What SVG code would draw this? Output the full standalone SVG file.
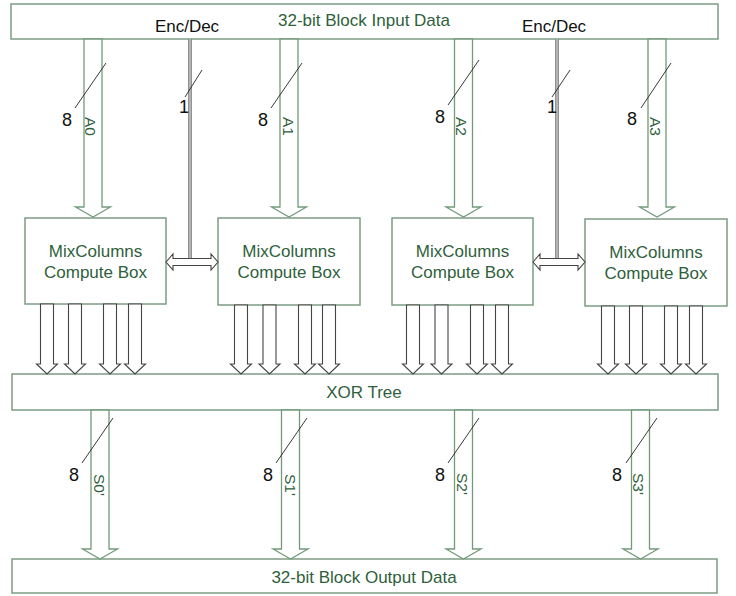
<svg xmlns="http://www.w3.org/2000/svg" width="736" height="596" viewBox="0 0 736 596">
<style>
.box{fill:#fff;stroke:#7d9c84;stroke-width:1.5}
.gt{font-family:"Liberation Sans",Arial,sans-serif;font-size:17px;fill:#2f5f3c;text-anchor:middle}
.bt{font-family:"Liberation Sans",Arial,sans-serif;font-size:17px;fill:#111;text-anchor:middle}
.num{font-family:"Liberation Sans",Arial,sans-serif;font-size:18px;fill:#111;text-anchor:middle}
.rot{font-family:"Liberation Sans",Arial,sans-serif;font-size:15.5px;fill:#2f5f3c}
.ga{fill:#fff;stroke:#739a7b;stroke-width:1.3}
.ka{fill:#fff;stroke:#444;stroke-width:1.1}
.sl{stroke:#222;stroke-width:0.9;fill:none}
</style>
<g id="input-box"><rect class="box" x="11" y="4" width="707" height="35"/><text class="gt" x="364" y="26">32-bit Block Input Data</text></g>
<g id="encdec-labels"><text class="bt" x="187" y="32">Enc/Dec</text><text class="bt" x="554" y="32">Enc/Dec</text></g>
<g id="mix0"><rect class="box" x="25" y="218" width="141" height="86"/><text class="gt" x="95.5" y="257">MixColumns</text><text class="gt" x="95.5" y="278">Compute Box</text></g>
<g id="mix1"><rect class="box" x="218" y="218" width="142" height="87"/><text class="gt" x="289" y="257">MixColumns</text><text class="gt" x="289" y="278">Compute Box</text></g>
<g id="mix2"><rect class="box" x="392" y="218" width="141" height="87"/><text class="gt" x="462.5" y="257">MixColumns</text><text class="gt" x="462.5" y="278">Compute Box</text></g>
<g id="mix3"><rect class="box" x="585" y="219" width="142" height="87"/><text class="gt" x="656" y="258">MixColumns</text><text class="gt" x="656" y="279">Compute Box</text></g>
<g id="xor"><rect class="box" x="12" y="374" width="706" height="36"/><text class="gt" x="364" y="398">XOR Tree</text></g>
<g id="output-box"><rect class="box" x="12" y="559" width="705" height="34"/><text class="gt" x="364" y="583">32-bit Block Output Data</text></g>
<g id="connectors">
<polygon class="ga" points="84,39 102,39 102,207 110.5,207 93,217 75.5,207 84,207"/>
<polygon class="ga" points="280,39 298,39 298,207 306.5,207 289,217 271.5,207 280,207"/>
<polygon class="ga" points="454.5,39 472.5,39 472.5,207 481,207 463.5,217 446,207 454.5,207"/>
<polygon class="ga" points="648,39 666,39 666,207 674.5,207 657,217 639.5,207 648,207"/>
<polygon class="ga" points="91,410 109,410 109,549 117.5,549 100,559 82.5,549 91,549"/>
<polygon class="ga" points="281.5,410 299.5,410 299.5,549 308,549 290.5,559 273,549 281.5,549"/>
<polygon class="ga" points="454.5,410 472.5,410 472.5,549 481,549 463.5,559 446,549 454.5,549"/>
<polygon class="ga" points="631.5,410 649.5,410 649.5,549 658,549 640.5,559 623,549 631.5,549"/>
<line x1="190" y1="39" x2="190" y2="258.5" stroke="#777" stroke-width="3.6"/>
<line x1="190" y1="39" x2="190" y2="258.5" stroke="#ddd" stroke-width="1.2"/>
<line x1="557" y1="39" x2="557" y2="258.5" stroke="#777" stroke-width="3.6"/>
<line x1="557" y1="39" x2="557" y2="258.5" stroke="#ddd" stroke-width="1.2"/>
<polygon class="ka" points="166,262 173,254 173,258.5 211,258.5 211,254 218,262 211,270 211,265.5 173,265.5 173,270"/>
<polygon class="ka" points="533,262 540,254 540,258.5 578,258.5 578,254 585,262 578,270 578,265.5 540,265.5 540,270"/>
<g id="outs">
<polygon class="ka" points="40.5,304 53.5,304 53.5,364 57.5,364 47,374 36.5,364 40.5,364"/>
<polygon class="ka" points="68.5,304 81.5,304 81.5,364 85.5,364 75,374 64.5,364 68.5,364"/>
<polygon class="ka" points="103.5,304 116.5,304 116.5,364 120.5,364 110,374 99.5,364 103.5,364"/>
<polygon class="ka" points="128.5,304 141.5,304 141.5,364 145.5,364 135,374 124.5,364 128.5,364"/>
<polygon class="ka" points="234.5,305 247.5,305 247.5,364 251.5,364 241,374 230.5,364 234.5,364"/>
<polygon class="ka" points="263,305 276,305 276,364 280,364 269.5,374 259,364 263,364"/>
<polygon class="ka" points="298.5,305 311.5,305 311.5,364 315.5,364 305,374 294.5,364 298.5,364"/>
<polygon class="ka" points="322.5,305 335.5,305 335.5,364 339.5,364 329,374 318.5,364 322.5,364"/>
<polygon class="ka" points="406.5,305 419.5,305 419.5,364 423.5,364 413,374 402.5,364 406.5,364"/>
<polygon class="ka" points="435,305 448,305 448,364 452,364 441.5,374 431,364 435,364"/>
<polygon class="ka" points="470.5,305 483.5,305 483.5,364 487.5,364 477,374 466.5,364 470.5,364"/>
<polygon class="ka" points="495.5,305 508.5,305 508.5,364 512.5,364 502,374 491.5,364 495.5,364"/>
<polygon class="ka" points="601.5,306 614.5,306 614.5,364 618.5,364 608,374 597.5,364 601.5,364"/>
<polygon class="ka" points="629.5,306 642.5,306 642.5,364 646.5,364 636,374 625.5,364 629.5,364"/>
<polygon class="ka" points="664.5,306 677.5,306 677.5,364 681.5,364 671,374 660.5,364 664.5,364"/>
<polygon class="ka" points="689.5,306 702.5,306 702.5,364 706.5,364 696,374 685.5,364 689.5,364"/>
</g>
<line class="sl" x1="75" y1="108" x2="106" y2="63"/>
<line class="sl" x1="271" y1="108" x2="302" y2="63"/>
<line class="sl" x1="448" y1="105" x2="479" y2="60"/>
<line class="sl" x1="641" y1="108" x2="671" y2="63"/>
<line class="sl" x1="185" y1="97" x2="202" y2="70"/>
<line class="sl" x1="552" y1="97" x2="570" y2="70"/>
<line class="sl" x1="82" y1="463" x2="113" y2="418"/>
<line class="sl" x1="276" y1="463" x2="307" y2="418"/>
<line class="sl" x1="448" y1="463" x2="479" y2="418"/>
<line class="sl" x1="626" y1="463" x2="657" y2="418"/>
</g>
<g id="labels">
<text class="num" x="67" y="126">8</text>
<text class="num" x="263" y="126">8</text>
<text class="num" x="440" y="123">8</text>
<text class="num" x="632" y="125">8</text>
<text class="num" x="184" y="113">1</text>
<text class="num" x="552" y="113">1</text>
<text class="num" x="74" y="481">8</text>
<text class="num" x="268" y="481">8</text>
<text class="num" x="440" y="481">8</text>
<text class="num" x="617" y="481">8</text>
<text class="rot" transform="translate(85,117) rotate(90)">A0</text>
<text class="rot" transform="translate(283,117) rotate(90)">A1</text>
<text class="rot" transform="translate(456,117) rotate(90)">A2</text>
<text class="rot" transform="translate(650,117) rotate(90)">A3</text>
<text class="rot" transform="translate(94,474) rotate(90)">S0'</text>
<text class="rot" transform="translate(285,474) rotate(90)">S1'</text>
<text class="rot" transform="translate(457,473) rotate(90)">S2'</text>
<text class="rot" transform="translate(633,473) rotate(90)">S3'</text>
</g>
</svg>
